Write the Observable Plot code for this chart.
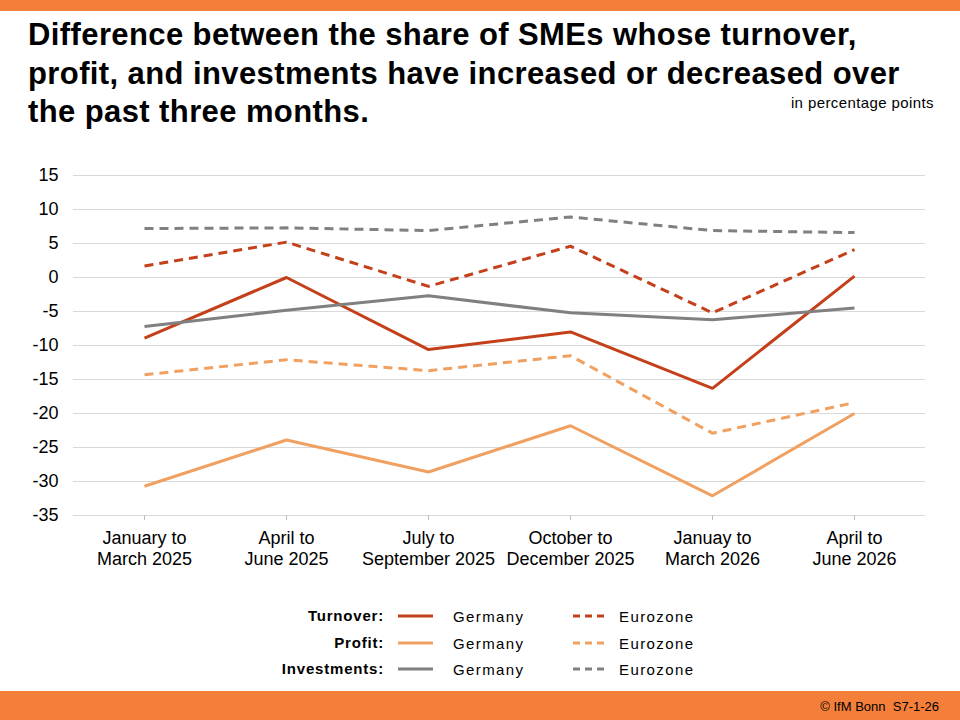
<!DOCTYPE html>
<html>
<head>
<meta charset="utf-8">
<script src="https://cdn.jsdelivr.net/npm/d3@7"></script>
<script src="https://cdn.jsdelivr.net/npm/@observablehq/plot@0.6"></script>
<style>
  body { margin: 0; width: 960px; height: 720px; position: relative; overflow: hidden; background: #fff;
         font-family: "Liberation Sans", Arial, sans-serif; }
  .bar { position: absolute; left: 0; width: 960px; background: #F47F3A; }
  #title { position: absolute; left: 28px; top: 16px; font-size: 31px; letter-spacing: 0.4px; font-weight: bold; line-height: 38.5px; color: #000; }
  #unit { position: absolute; right: 26px; top: 94px; font-size: 15px; letter-spacing: 0.4px; color: #000; }
  #chart { position: absolute; left: 0; top: 150px; }
  #legend { position: absolute; top: 607px; left: 0; width: 960px; font-size: 15px; letter-spacing: 1.4px; }
  #footer { position: absolute; right: 21px; top: 699px; font-size: 13px; color: #000; }
</style>
</head>
<body>
<div class="bar" style="top:0;height:11px"></div>
<div id="title">Difference between the share of SMEs whose turnover,<br>profit, and investments have increased or decreased over<br>the past three months.</div>
<div id="unit">in percentage points</div>
<div id="chart"></div>
<div id="legend"></div>
<div class="bar" style="top:691px;height:29px"></div>
<div id="footer">© IfM Bonn&nbsp; S7-1-26</div>
<script>
const quarters = ["January to\nMarch 2025", "April to\nJune 2025", "July to\nSeptember 2025",
  "October to\nDecember 2025", "Januay to\nMarch 2026", "April to\nJune 2026"];

const turnoverGermany = [-8.9, 0.0, -10.6, -8.0, -16.3, 0.2];
const turnoverEurozone = [1.7, 5.2, -1.3, 4.6, -5.2, 4.1];
const profitGermany = [-30.7, -23.9, -28.6, -21.8, -32.1, -20.0];
const profitEurozone = [-14.3, -12.1, -13.7, -11.5, -22.9, -18.4];
const investGermany = [-7.2, -4.8, -2.7, -5.2, -6.2, -4.5];
const investEurozone = [7.2, 7.3, 6.9, 8.9, 6.9, 6.6];

const yTicks = [15, 10, 5, 0, -5, -10, -15, -20, -25, -30, -35];

const series = [
  {label: "Turnover:", region: "Germany", values: turnoverGermany, color: "#C4401A", dash: null},
  {label: "Turnover:", region: "Eurozone", values: turnoverEurozone, color: "#C4401A", dash: "9,6"},
  {label: "Profit:", region: "Germany", values: profitGermany, color: "#F0A060", dash: null},
  {label: "Profit:", region: "Eurozone", values: profitEurozone, color: "#F0A060", dash: "9,6"},
  {label: "Investments:", region: "Germany", values: investGermany, color: "#808080", dash: null},
  {label: "Investments:", region: "Eurozone", values: investEurozone, color: "#808080", dash: "9,6"}
];

const lineMarks = series.map(s =>
  Plot.line(quarters.map((q, i) => ({q, v: s.values[i]})), {
    x: "q", y: "v", stroke: s.color, strokeWidth: 3,
    strokeDasharray: s.dash, strokeLinejoin: "miter", strokeLinecap: "butt"
  })
);

let chart = Plot.plot({
  width: 960,
  height: 430,
  marginTop: 25,
  marginBottom: 65,
  marginLeft: 73,
  marginRight: 35,
  x: {type: "point", domain: quarters, padding: 0.5, label: null},
  y: {domain: [-35, 15], label: null},
  style: {fontFamily: "'Liberation Sans', Arial, sans-serif", fontSize: 18, color: "#000", background: "transparent"},
  marks: [
    Plot.ruleY(yTicks, {stroke: "#d9d9d9", strokeWidth: 1.2}),
    Plot.axisY(yTicks, {tickSize: 0, tickPadding: 15, fontSize: 18, tickFormat: d => String(d)}),
    Plot.axisX({tickSize: 5, tickPadding: 9, fontSize: 18, stroke: "#bfbfbf", lineHeight: 1.15}),
    ...lineMarks
  ]
});
document.getElementById("chart").append(chart);

// legend
const legend = d3.select("#legend");
const labels = ["Turnover:", "Profit:", "Investments:"];
labels.forEach((lab, r) => {
  const top = r * 26.5;
  legend.append("div").style("position", "absolute").style("top", top + "px")
    .style("right", (960 - 384) + "px").style("font-weight", "bold").style("font-size", "15px")
    .style("letter-spacing", "0.8px")
    .text(lab);
  series.filter(s => s.label === lab).forEach((s, k) => {
    const x0 = k === 0 ? 398 : 573;
    const svg = legend.append("svg").attr("width", 36).attr("height", 20)
      .style("position", "absolute").style("left", x0 + "px").style("top", (top - 1) + "px");
    svg.append("line").attr("x1", 0).attr("x2", 35).attr("y1", 10).attr("y2", 10)
      .attr("stroke", s.color).attr("stroke-width", 3)
      .attr("stroke-dasharray", s.dash ? "7,5" : null);
    legend.append("div").style("position", "absolute").style("top", (top + 1) + "px")
      .style("left", (k === 0 ? 453 : 619) + "px").text(s.region);
  });
});
</script>
</body>
</html>
